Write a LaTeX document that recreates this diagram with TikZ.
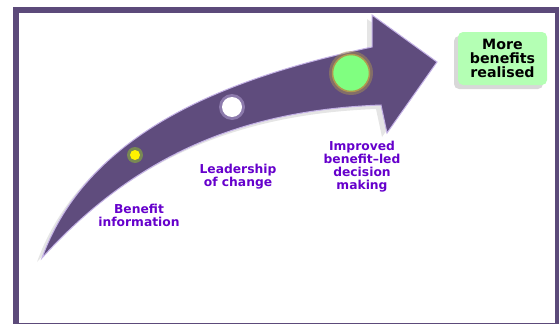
\documentclass[tikz,border=0pt]{standalone}
\usepackage{fontspec}
\setmainfont{DejaVu Sans}
\usetikzlibrary{shadows}
\definecolor{framecol}{RGB}{92,74,122}
\definecolor{arrowcol}{RGB}{95,76,125}
\definecolor{edgecol}{RGB}{196,178,230}
\definecolor{txtcol}{RGB}{102,0,204}
\definecolor{boxcol}{RGB}{180,255,180}
\definecolor{greencol}{RGB}{128,255,128}
\definecolor{ringcol}{RGB}{176,152,80}
\begin{document}
\begin{tikzpicture}[x=1pt, y=-1pt, thick, >={latex},
	lbl/.style={text=txtcol, font=\fontsize{12.3}{13}\selectfont\bfseries, align=center, inner sep=0pt},
	goal/.style={fill=boxcol, rounded corners=5pt, minimum width=89pt, minimum height=53pt, align=center,
		font=\fontsize{14.2}{14}\selectfont\bfseries, inner sep=1pt,
		drop shadow={shadow xshift=-4pt, shadow yshift=-4pt, opacity=0.3, fill=gray}},
	glow/.style={opacity=0.45}]
		\useasboundingbox (0, 0) rectangle (559, 324);
		% frame
		\fill[framecol] (13, 7) rectangle (559, 324);
		\fill[white] (19, 13) rectangle (555, 322.5);
		% arrow shadow
		\fill[gray, opacity=0.2] (37, 262) .. controls (85, 129) and (237, 79) .. (367, 51) -- (367, 19) -- (432, 66) -- (382, 137) -- (376, 109) .. controls (245, 114) and (135, 154) .. cycle;
		% arrow
		\draw[fill=arrowcol, draw=edgecol, line width=1pt] (42, 258) .. controls (90, 125) and (242, 75) .. (372, 47) -- (372, 15) -- (437, 62) -- (387, 133) -- (381, 105) .. controls (250, 110) and (140, 150) .. cycle;
		% circles
		\fill[yellow!60!green, glow] (135, 155) circle(8);
		\draw[fill=yellow, draw=none] (135, 155) circle(5);
		\fill[edgecol, glow] (232, 107) circle(13);
		\draw[fill=white, draw=none] (232, 107) circle(10);
		\fill[ringcol, glow] (351, 73) circle(22);
		\draw[fill=greencol, draw=ringcol, line width=1.5pt] (351, 73) circle(18.5);
		% labels
		\node[lbl] (info) at (139, 215) {Benefit\\information};
		\node[lbl] (lead) at (238, 177) {Leadership\\of change};
		\node[lbl] (decide) at (362, 166.5) {Improved\\benefit--led\\decision\\making};
		\node[goal] (more) at (502.5, 58.5) {More\\benefits\\realised};
	\end{tikzpicture}
\end{document}
